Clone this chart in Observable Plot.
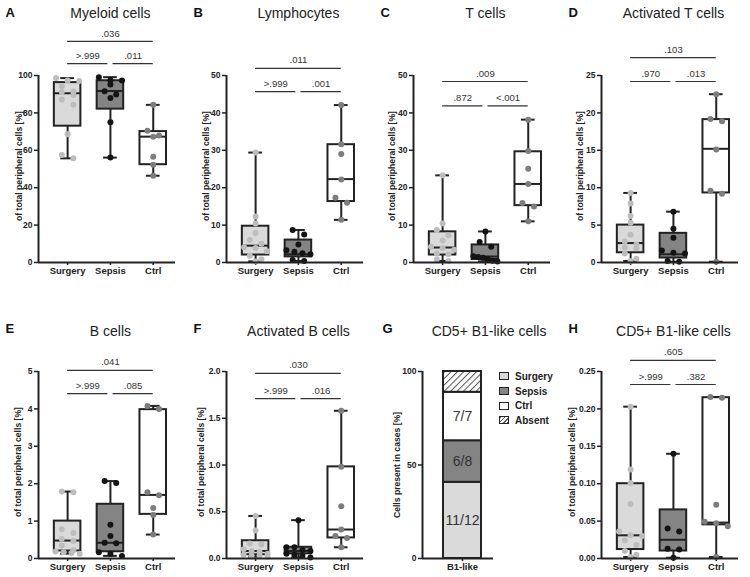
<!DOCTYPE html>
<html>
<head>
<meta charset="utf-8">
<script src="https://cdn.jsdelivr.net/npm/d3@7"></script>
<script src="https://cdn.jsdelivr.net/npm/@observablehq/plot@0.6"></script>
<style>
  body { margin: 0; background: #fff; }
  #fig { position: relative; width: 750px; height: 577px; overflow: hidden; background: #fff;
         font-family: Arial, "Liberation Sans", sans-serif; }
  #fig svg { position: absolute; overflow: visible; }
  .legend { position: absolute; font: bold 10px Arial, "Liberation Sans", sans-serif; color: #222; }
  .legend div { display: flex; align-items: center; height: 14.7px; }
  .legend span.sw { display: inline-block; width: 8px; height: 6px; border: 1.3px solid #222; margin-right: 6px; }
</style>
</head>
<body>
<div id="fig"></div>
<script>
const groups = ["Surgery", "Sepsis", "Ctrl"];

// Myeloid cells, % of total peripheral cells
const myeloidPoints = [
  [98.6, 97.3, 97.0, 94.3, 91.4, 91.2, 89.6, 87.1, 84.3, 68.6, 57.5, 55.7],
  [99.1, 97.5, 97.3, 95.2, 91.6, 89.8, 88.0, 75.0, 56.1],
  [84.3, 70.5, 67.9, 67.3, 56.6, 52.3, 46.4]
];
const myeloidBox = [[72.9, 90.5, 96.2], [82.0, 91.7, 97.2], [52.3, 67.3, 70.0]];
const myeloidP = [".036", ">.999", ".011"];
const myeloidTicks = [0, 20, 40, 60, 80, 100];

// Lymphocytes
const lymphoPoints = [
  [29.4, 12.3, 10.4, 7.9, 6.0, 5.0, 4.1, 3.9, 3.0, 1.8, 0.9, 0.3],
  [8.7, 7.5, 4.8, 3.3, 2.9, 2.5, 2.2, 0.7, 0.4],
  [42.1, 31.6, 29.0, 22.2, 17.3, 16.0, 11.4]
];
const lymphoBox = [[2.0, 4.5, 9.7], [1.5, 2.2, 6.0], [16.3, 22.3, 31.5]];
const lymphoP = [".011", ">.999", ".001"];
const lymphoTicks = [0, 10, 20, 30, 40, 50];

// T cells
const tcellPoints = [
  [23.3, 10.4, 8.7, 7.3, 5.9, 4.2, 3.8, 3.4, 2.4, 2.2, 0.8, 0.4],
  [8.3, 5.5, 4.2, 1.7, 1.5, 1.3, 1.0, 0.5, 0.3],
  [38.2, 29.8, 25.1, 21.0, 15.9, 15.0, 11.0]
];
const tcellBox = [[2.0, 4.0, 8.2], [0.8, 1.6, 4.7], [15.2, 21.0, 29.6]];
const tcellP = [".009", ".872", "<.001"];
const tcellTicks = [0, 10, 20, 30, 40, 50];

// Activated T cells
const actTPoints = [
  [9.3, 7.9, 6.2, 5.3, 3.7, 2.8, 2.4, 2.0, 1.9, 1.2, 0.5, 0.2],
  [6.8, 4.5, 3.3, 1.6, 1.3, 1.2, 0.2, 0.1],
  [22.5, 19.2, 18.9, 15.1, 9.6, 9.2, 0.1]
];
const actTBox = [[1.3, 2.6, 5.0], [0.6, 1.1, 3.9], [9.3, 15.2, 19.1]];
const actTP = [".103", ".970", ".013"];
const actTTicks = [0, 5, 10, 15, 20, 25];

// B cells
const bcellPoints = [
  [1.79, 1.77, 0.78, 0.68, 0.52, 0.47, 0.35, 0.22, 0.19, 0.17, 0.15, 0.13],
  [2.07, 2.02, 0.90, 0.60, 0.42, 0.41, 0.17, 0.13, 0.07],
  [4.08, 4.00, 1.77, 1.69, 1.35, 1.16, 0.64]
];
const bcellBox = [[0.20, 0.48, 1.00], [0.18, 0.42, 1.45], [1.18, 1.70, 3.98]];
const bcellP = [".041", ">.999", ".085"];
const bcellTicks = [0, 1, 2, 3, 4, 5];

// Activated B cells
const actBPoints = [
  [0.455, 0.30, 0.16, 0.15, 0.10, 0.08, 0.07, 0.05, 0.04, 0.03, 0.03, 0.02],
  [0.41, 0.12, 0.12, 0.09, 0.08, 0.05, 0.04, 0.03, 0.01],
  [1.58, 0.98, 0.56, 0.31, 0.24, 0.22, 0.12]
];
const actBBox = [[0.04, 0.08, 0.19], [0.05, 0.08, 0.12], [0.22, 0.31, 0.98]];
const actBP = [".030", ">.999", ".016"];
const actBTicks = [0, 0.5, 1.0, 1.5, 2.0];

// CD5+ B1-like cells: cases with cells present / all cases
const b1Present = [11, 6, 7];
const b1Cases = [12, 8, 7];
const b1Legend = ["Surgery", "Sepsis", "Ctrl", "Absent"];
const b1Ticks = [0, 50, 100];

// CD5+ B1-like cells, % of total peripheral cells
const b1Points = [
  [0.203, 0.119, 0.101, 0.073, 0.036, 0.031, 0.030, 0.024, 0.018, 0.010, 0.005, 0.002],
  [0.140, 0.040, 0.036, 0.013, 0.012, 0.001],
  [0.216, 0.215, 0.072, 0.049, 0.047, 0.043, 0.002]
];
const b1Box = [[0.012, 0.031, 0.100], [0.010, 0.025, 0.065], [0.045, 0.048, 0.215]];
const b1P = [".605", ">.999", ".382"];
const b1PctTicks = [0, 0.05, 0.10, 0.15, 0.20, 0.25];

// ---- styling ----
const FONT = 'Arial, "Liberation Sans", sans-serif';
const INK = "#222";
const boxFill = ["#dadada", "#848484", "#ffffff"];
const dotFill = ["#bdbdbd", "#141414", "#7d7d7d"];
const yLabel = "of total peripheral cells [%]";

const rows = [
  {top: 0, height: 288, mt: 75, mb: 26, titleDy: -62, letterDy: -63},
  {top: 288, height: 289, mt: 83, mb: 19, titleDy: -40, letterDy: -43}
];
const colLeft = [0, 188, 375, 563];
const PW = 187;

const panels = [
  {letter: "A", title: "Myeloid cells", col: 0, row: 0, points: myeloidPoints, box: myeloidBox, p: myeloidP, ticks: myeloidTicks, fmt: "d", brTop: 118.2, brIn: 106.4, labelDx: -19},
  {letter: "B", title: "Lymphocytes", col: 1, row: 0, points: lymphoPoints, box: lymphoBox, p: lymphoP, ticks: lymphoTicks, fmt: "d", brTop: 51.9, brIn: 45.7, labelDx: -20},
  {letter: "C", title: "T cells", col: 2, row: 0, points: tcellPoints, box: tcellBox, p: tcellP, ticks: tcellTicks, fmt: "d", brTop: 48.4, brIn: 41.9, labelDx: -21},
  {letter: "D", title: "Activated T cells", col: 3, row: 0, points: actTPoints, box: actTBox, p: actTP, ticks: actTTicks, fmt: "d", brTop: 27.4, brIn: 24.2, labelDx: -21},
  {letter: "E", title: "B cells", col: 0, row: 1, points: bcellPoints, box: bcellBox, p: bcellP, ticks: bcellTicks, fmt: "d", brTop: 5.03, brIn: 4.41, labelDx: -20},
  {letter: "F", title: "Activated B cells", col: 1, row: 1, points: actBPoints, box: actBBox, p: actBP, ticks: actBTicks, fmt: ".1f", brTop: 1.98, brIn: 1.71, labelDx: -25},
  {letter: "H", title: "CD5+ B1-like cells", col: 3, row: 1, points: b1Points, box: b1Box, p: b1P, ticks: b1PctTicks, fmt: ".2f", brTop: 0.265, brIn: 0.2326, labelDx: -29}
];

const fig = document.getElementById("fig");

function mount(node, left, top) {
  node.style.left = left + "px";
  node.style.top = top + "px";
  fig.append(node);
}

// scatter dot plot: points closer than a dot diameter share a row and are
// laid out side by side, centred on the group, within the box width
function spread(points, pxPerUnit) {
  const out = [];
  points.forEach((vals, g) => {
    const sorted = [...vals].sort((a, b) => b - a);
    const rowsOf = [];
    sorted.forEach(v => {
      const last = rowsOf[rowsOf.length - 1];
      if (last && (last[0] - v) * pxPerUnit < 5.6) last.push(v);
      else rowsOf.push([v]);
    });
    rowsOf.forEach(r => {
      const m = r.length;
      const step = m > 1 ? Math.min(0.27, 0.56 / (m - 1)) : 0;
      r.forEach((v, j) => out.push({g, x: g + (j - (m - 1) / 2) * step, v}));
    });
  });
  return out;
}

function boxPanel(cfg) {
  const row = rows[cfg.row];
  const yMax = cfg.ticks[cfg.ticks.length - 1];
  const plotH = row.height - row.mt - row.mb;
  const dots = spread(cfg.points, plotH / yMax);
  const boxes = cfg.box.map(([q1, med, q3], g) => ({
    g, q1, med, q3, lo: d3.min(cfg.points[g]), hi: d3.max(cfg.points[g])
  }));
  const gap = 0.06;
  const brackets = [
    {x1: 0, x2: 2, y: cfg.brTop, label: cfg.p[0]},
    {x1: 0, x2: 1 - gap, y: cfg.brIn, label: cfg.p[1]},
    {x1: 1 + gap, x2: 2, y: cfg.brIn, label: cfg.p[2]}
  ];
  const bw = 0.31, cap = 0.16;
  const svg = Plot.plot({
    width: PW, height: row.height,
    marginLeft: 38, marginRight: 12, marginTop: row.mt, marginBottom: row.mb,
    x: {domain: [-0.68, 2.52], axis: null},
    y: {domain: [0, yMax], axis: null},
    color: {type: "identity"},
    style: {fontFamily: FONT, color: INK, background: "transparent", overflow: "visible"},
    marks: [
      Plot.axisY({ticks: cfg.ticks, tickFormat: d3.format(cfg.fmt), tickSize: 4, tickPadding: 2,
                  fontSize: 8.5, fontWeight: "bold", strokeWidth: 1.5, label: null}),
      Plot.axisX({ticks: [0, 1, 2], tickFormat: i => groups[i], tickSize: 3, tickPadding: 2,
                  fontSize: 9.5, fontWeight: "bold", strokeWidth: 1.5, label: null}),
      Plot.ruleX(boxes, {x: "g", y1: "lo", y2: "hi", stroke: INK, strokeWidth: 2}),
      Plot.rect(boxes, {x1: d => d.g - bw, x2: d => d.g + bw, y1: "q1", y2: "q3",
                        fill: d => boxFill[d.g], stroke: INK, strokeWidth: 2}),
      Plot.ruleY(boxes, {y: "med", x1: d => d.g - bw, x2: d => d.g + bw, stroke: INK, strokeWidth: 2}),
      Plot.ruleY(boxes, {y: "hi", x1: d => d.g - cap, x2: d => d.g + cap, stroke: INK, strokeWidth: 2}),
      Plot.ruleY(boxes, {y: "lo", x1: d => d.g - cap, x2: d => d.g + cap, stroke: INK, strokeWidth: 2}),
      Plot.dot(dots, {x: "x", y: "v", r: 3, fill: d => dotFill[d.g], stroke: null}),
      Plot.ruleX([-0.68], {stroke: INK, strokeWidth: 2}),
      Plot.ruleY([0], {stroke: INK, strokeWidth: 2}),
      Plot.ruleY(brackets, {x1: "x1", x2: "x2", y: "y", stroke: "#333", strokeWidth: 1.2}),
      Plot.text(brackets, {x: d => (d.x1 + d.x2) / 2, y: "y", text: "label", dy: -8,
                           fontSize: 9.5, fill: "#333"}),
      Plot.text([cfg.title], {x: 1, frameAnchor: "top", lineAnchor: "middle", dy: row.titleDy,
                              fontSize: 14, fill: INK}),
      Plot.text([cfg.letter], {frameAnchor: "top-left", dx: -33, dy: row.letterDy, textAnchor: "start",
                               lineAnchor: "middle", fontSize: 13, fontWeight: "bold", fill: "#111"}),
      Plot.text([yLabel], {frameAnchor: "left", textAnchor: "middle", lineAnchor: "middle", rotate: -90,
                           dx: cfg.labelDx, dy: -3, fontSize: 8.6, fontWeight: "bold", fill: INK})
    ]
  });
  mount(svg, colLeft[cfg.col], row.top);
}

function stackPanel() {
  const row = rows[1];
  const total = d3.sum(b1Cases);
  const counts = [...b1Present, total - d3.sum(b1Present)];
  let acc = 0;
  const segs = counts.map((c, i) => {
    const y1 = acc / total * 100;
    acc += c;
    return {i, y1, y2: acc / total * 100, label: i < 3 ? `${b1Present[i]}/${b1Cases[i]}` : ""};
  });
  const fills = ["#dadada", "#848484", "#ffffff", "url(#hatch)"];
  const svg = Plot.plot({
    width: PW, height: row.height,
    marginLeft: 47, marginRight: 69, marginTop: row.mt, marginBottom: row.mb,
    x: {domain: [-1.053, 0.816], axis: null},
    y: {domain: [0, 100], axis: null},
    color: {type: "identity"},
    style: {fontFamily: FONT, color: INK, background: "transparent", overflow: "visible"},
    marks: [
      Plot.axisY({ticks: b1Ticks, tickSize: 4, tickPadding: 2, fontSize: 8.5, fontWeight: "bold",
                  strokeWidth: 1.5, label: null}),
      Plot.axisX({ticks: [0], tickFormat: () => "B1-like", tickSize: 3, tickPadding: 2,
                  fontSize: 9.5, fontWeight: "bold", strokeWidth: 1.5, label: null}),
      Plot.rect(segs, {x1: -0.5, x2: 0.5, y1: "y1", y2: "y2", fill: d => fills[d.i],
                       stroke: INK, strokeWidth: 2}),
      Plot.text(segs.filter(d => d.label), {x: 0, y: d => (d.y1 + d.y2) / 2, text: "label",
                                            fontSize: 14, fill: "#333"}),
      Plot.ruleX([-1.053], {stroke: INK, strokeWidth: 2}),
      Plot.ruleY([0], {stroke: INK, strokeWidth: 2}),
      Plot.text(["CD5+ B1-like cells"], {frameAnchor: "top", lineAnchor: "middle", dx: 31, dy: row.titleDy,
                                         fontSize: 14, fill: INK}),
      Plot.text(["G"], {frameAnchor: "top-left", dx: -40, dy: row.letterDy, textAnchor: "start",
                        lineAnchor: "middle", fontSize: 13, fontWeight: "bold", fill: "#111"}),
      Plot.text(["Cells present in cases [%]"], {frameAnchor: "left", textAnchor: "middle", lineAnchor: "middle",
                                                 rotate: -90, dx: -25, fontSize: 8.6, fontWeight: "bold", fill: INK})
    ]
  });
  d3.select(svg).insert("defs", ":first-child").html(
    `<pattern id="hatch" patternUnits="userSpaceOnUse" width="4.5" height="4.5" patternTransform="rotate(45)">
       <rect width="4.5" height="4.5" fill="#fff"></rect>
       <line x1="0" y1="0" x2="0" y2="4.5" stroke="#555" stroke-width="2"></line>
     </pattern>`);
  mount(svg, colLeft[2], row.top);

  // legend for the stacked bar
  const swatch = ["#dadada", "#848484", "#ffffff",
                  "repeating-linear-gradient(135deg, #555 0 1.2px, #fff 1.2px 3px)"];
  const legend = document.createElement("div");
  legend.className = "legend";
  legend.style.left = "499px";
  legend.style.top = "369px";
  b1Legend.forEach((name, i) => {
    const item = document.createElement("div");
    const sw = document.createElement("span");
    sw.className = "sw";
    sw.style.background = swatch[i];
    item.append(sw, document.createTextNode(name));
    legend.append(item);
  });
  fig.append(legend);
}

panels.forEach(boxPanel);
stackPanel();
</script>
</body>
</html>
